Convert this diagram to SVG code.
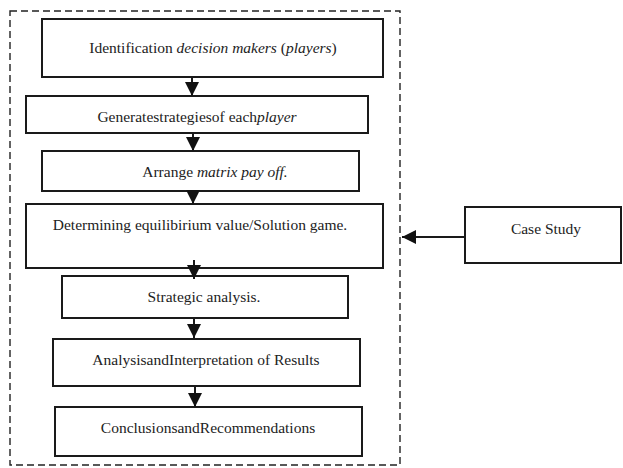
<svg xmlns="http://www.w3.org/2000/svg" width="623" height="468" viewBox="0 0 623 468">
<style>
.box{fill:#fff;stroke:#1a1a1a;stroke-width:2}
text{font-family:'Liberation Serif','Times New Roman',Times,serif;font-size:15.5px;fill:#222;text-anchor:middle}
.i{font-style:italic}
.ln{stroke:#1a1a1a;stroke-width:2;fill:none}
.dash{fill:none;stroke:#222;stroke-width:1.4;stroke-dasharray:7 4}
</style>
<defs>
<marker id="ah" viewBox="0 0 10 10" refX="10" refY="5" markerWidth="7" markerHeight="7" markerUnits="strokeWidth" orient="auto">
<path d="M0,0 L10,5 L0,10 Z" fill="#111"/>
</marker>
</defs>
<rect class="dash" x="10" y="11" width="390" height="454"/>
<g id="n1"><rect class="box" x="42" y="19" width="341" height="58"/><text x="213" y="53" font-family="Liberation Serif, serif">Identification <tspan class="i">decision makers</tspan> (<tspan class="i">players</tspan>)</text></g>
<g id="n2"><rect class="box" x="26" y="96" width="342" height="37"/><text x="197" y="122">Generatestrategiesof each<tspan class="i">player</tspan></text></g>
<g id="n3"><rect class="box" x="42" y="151" width="317" height="40"/><text x="215" y="177">Arrange <tspan class="i">matrix pay off.</tspan></text></g>
<g id="n4"><rect class="box" x="26" y="204" width="357" height="64"/><text x="200" y="230">Determining equilibirium value/Solution game.</text></g>
<g id="n5"><rect class="box" x="62" y="276" width="286" height="42"/><text x="204" y="302">Strategic analysis.</text></g>
<g id="n6"><rect class="box" x="53" y="339" width="307" height="47"/><text x="206" y="365">AnalysisandInterpretation of Results</text></g>
<g id="n7"><rect class="box" x="55" y="407" width="307" height="49"/><text x="208" y="433">ConclusionsandRecommendations</text></g>
<g id="n8"><rect class="box" x="465" y="207" width="156" height="56"/><text x="546" y="234">Case Study</text></g>
<g id="connectors">
<line class="ln" x1="192" y1="77" x2="192" y2="96" marker-end="url(#ah)"/>
<line class="ln" x1="193" y1="133" x2="193" y2="151" marker-end="url(#ah)"/>
<line class="ln" x1="193" y1="191" x2="193" y2="204" marker-end="url(#ah)"/>
<line class="ln" x1="194" y1="260" x2="194" y2="279" marker-end="url(#ah)"/>
<line class="ln" x1="194" y1="318" x2="194" y2="338" marker-end="url(#ah)"/>
<line class="ln" x1="195" y1="386" x2="195" y2="407" marker-end="url(#ah)"/>
<line class="ln" x1="465" y1="237" x2="402" y2="237" marker-end="url(#ah)"/>
</g>
</svg>
